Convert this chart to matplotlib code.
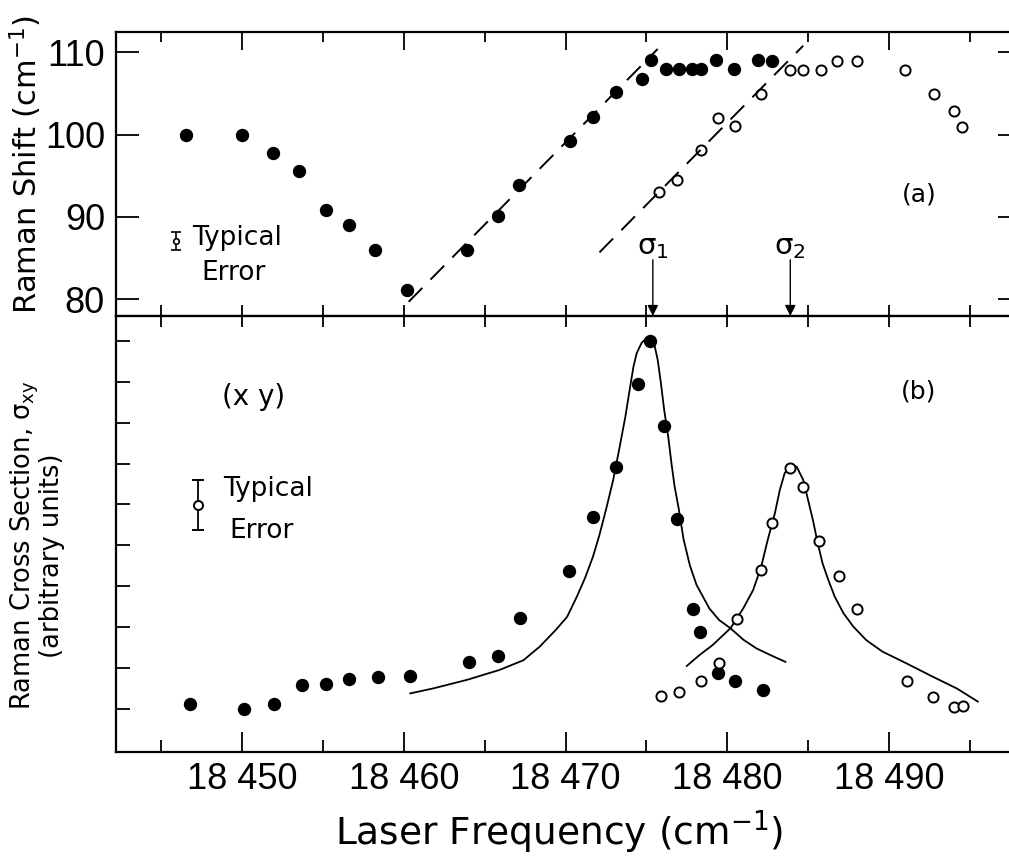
import matplotlib
matplotlib.use('Agg')
from matplotlib import pyplot as plt
from matplotlib.ticker import MultipleLocator

# (a) Raman shift vs laser frequency
shift_fill_x = [18446.5, 18450.0, 18451.9, 18453.5, 18455.2, 18456.6, 18458.2, 18460.2,
                18463.9, 18465.8, 18467.1, 18470.3, 18471.7, 18473.1, 18474.7, 18475.3,
                18476.2, 18477.0, 18477.8, 18478.4, 18479.3, 18480.4, 18481.9, 18482.8]
shift_fill_y = [100.0, 99.9, 97.8, 95.6, 90.9, 89.0, 86.0, 81.1,
                86.0, 90.1, 93.9, 99.2, 102.1, 105.2, 106.8, 109.1,
                108.0, 108.0, 108.0, 108.0, 109.1, 108.0, 109.1, 108.9]
shift_open_x = [18475.8, 18476.9, 18478.4, 18479.4, 18480.5, 18482.1, 18483.9, 18484.7,
                18485.8, 18486.8, 18488.0, 18491.0, 18492.8, 18494.0, 18494.5]
shift_open_y = [93.0, 94.5, 98.1, 102.0, 101.0, 104.9, 107.8, 107.8,
                107.9, 109.0, 108.9, 107.9, 104.9, 102.9, 100.9]
dash1_x = [18460.3, 18475.7]
dash1_y = [79.7, 110.4]
dash2_x = [18472.1, 18484.7]
dash2_y = [85.7, 110.8]
sigma_x = [18475.4, 18483.9]
sigma_lab = [r'$\mathregular{\sigma_1}$', r'$\mathregular{\sigma_2}$']
shift_ticks = [80, 90, 100, 110]
err_a = [18445.9, 87.1, 1.1]

# (b) cross section (arbitrary units)
xs_fill_x = [18446.8, 18450.1, 18452.0, 18453.7, 18455.2, 18456.6, 18458.4, 18460.4,
             18464.0, 18465.8, 18467.2, 18470.2, 18471.7, 18473.1, 18474.5, 18475.2,
             18476.1, 18476.9, 18477.9, 18478.3, 18479.4, 18480.5, 18482.2]
xs_fill_y = [1.13, 1.02, 1.13, 1.59, 1.63, 1.73, 1.80, 1.82,
             2.15, 2.30, 3.24, 4.38, 5.70, 6.92, 8.93, 9.99,
             7.92, 5.65, 3.44, 2.89, 1.89, 1.70, 1.47]
xs_open_x = [18475.9, 18477.0, 18478.4, 18479.5, 18480.6, 18482.1, 18482.8, 18483.9,
             18484.7, 18485.7, 18486.9, 18488.0, 18491.1, 18492.7, 18494.0, 18494.6]
xs_open_y = [1.33, 1.43, 1.69, 2.12, 3.20, 4.40, 5.56, 6.88,
             6.43, 5.11, 4.25, 3.44, 1.69, 1.31, 1.05, 1.09]
fit1_x = [18460.4, 18461.8, 18463.9, 18465.9, 18467.4, 18468.4, 18469.4, 18470.1,
          18470.7, 18471.2, 18471.7, 18472.1, 18472.5, 18472.95, 18473.35, 18473.7,
          18474.0, 18474.2, 18474.4, 18474.7, 18475.0, 18475.25, 18475.5, 18475.7,
          18475.9, 18476.1, 18476.35, 18476.55, 18476.75, 18477.0, 18477.3, 18477.7,
          18478.1, 18478.9, 18479.5, 18480.2, 18481.0, 18481.8, 18482.7, 18483.6]
fit1_y = [1.39, 1.51, 1.72, 1.96, 2.20, 2.53, 2.94, 3.26,
          3.75, 4.20, 4.73, 5.26, 5.87, 6.60, 7.41, 8.14,
          8.88, 9.36, 9.69, 9.94, 10.06, 10.06, 9.89, 9.53,
          8.96, 8.31, 7.66, 7.01, 6.43, 5.90, 5.15, 4.50,
          4.04, 3.46, 3.18, 2.98, 2.70, 2.49, 2.32, 2.16]
fit2_x = [18477.5, 18478.3, 18479.1, 18480.2, 18481.0, 18481.6, 18482.1, 18482.5,
          18482.95, 18483.25, 18483.55, 18483.9, 18484.3, 18484.7, 18485.0, 18485.3,
          18485.6, 18485.9, 18486.25, 18486.65, 18487.2, 18487.8, 18488.6, 18489.6,
          18491.1, 18492.7, 18494.2, 18495.5]
fit2_y = [2.06, 2.33, 2.57, 2.98, 3.47, 3.91, 4.48, 5.13,
          5.79, 6.35, 6.76, 6.96, 6.92, 6.60, 6.11, 5.62,
          5.05, 4.56, 4.16, 3.75, 3.34, 3.02, 2.69, 2.41,
          2.12, 1.80, 1.51, 1.19]
err_b = [18447.3, 5.99, 0.61]

x_ticks = [18450, 18460, 18470, 18480, 18490]
x_tick_labels = ['18 450', '18 460', '18 470', '18 480', '18 490']

plt.rcParams['font.family'] = 'DejaVu Sans'
plt.rcParams['mathtext.fontset'] = 'dejavusans'
tick_font = ['Liberation Sans', 'DejaVu Sans']

W, H = 1009, 859
fig = plt.figure(figsize=(W / 100, H / 100), dpi=100)
ax1 = fig.add_axes([116 / W, 1 - 316 / H, 895 / W, 284.3 / H])
ax2 = fig.add_axes([116 / W, 1 - 752 / H, 895 / W, 436 / H])

for ax in (ax1, ax2):
    ax.set_xlim(18442.2, 18497.55)
    ax.xaxis.set_minor_locator(MultipleLocator(5))
    for s in ax.spines.values():
        s.set_linewidth(1.6)
    ax.spines['right'].set_visible(False)

# ---- panel (a)
ax1.set_ylim(77.97, 112.5)
ax1.set_xticks(x_ticks, [])
ax1.set_yticks(shift_ticks, [str(v) for v in shift_ticks], family=tick_font, fontsize=26)
ax1.tick_params(axis='x', which='both', top=True, bottom=False, direction='in', width=1.3)
ax1.tick_params(axis='x', which='major', length=13)
ax1.tick_params(axis='x', which='minor', length=7)
ax1.tick_params(axis='y', left=True, right=False, direction='in', length=16.5, width=1.3, pad=8)
ry = ax1.secondary_yaxis('right')
ry.set_yticks(shift_ticks)
ry.tick_params(direction='in', length=9.4, width=1.3, labelright=False)
ry.spines['right'].set_visible(False)

ax1.plot(dash1_x, dash1_y, color='black', lw=1.4, linestyle=(0, (10, 6)))
ax1.plot(dash2_x, dash2_y, color='black', lw=1.4, linestyle=(0, (10, 6)))
ax1.plot(shift_fill_x, shift_fill_y, 'o', color='black', ms=8.6, zorder=3)
ax1.plot(shift_open_x, shift_open_y, 'o', mfc='none', mec='black', ms=7.3, mew=1.4, zorder=3)

for sx, lab in zip(sigma_x, sigma_lab):
    ax1.annotate('', xy=(sx, 77.97), xytext=(sx, 84.8),
                 arrowprops=dict(arrowstyle='-|>', color='black', lw=1.0,
                                 mutation_scale=16, shrinkA=0, shrinkB=0))
    ax1.text(sx, 84.7, lab, ha='center', va='bottom', fontsize=21)

ax1.errorbar(err_a[0], err_a[1], yerr=err_a[2], fmt='o', ms=4, mfc='white', mec='black',
             mew=1.2, ecolor='black', elinewidth=1.2, capsize=3.6, capthick=1.2)
ax1.text(18446.9, 87.5, 'Typical', ha='left', va='center', fontsize=19)
ax1.text(18447.5, 83.2, 'Error', ha='left', va='center', fontsize=19)
ax1.text(18491.9, 92.7, '(a)', ha='center', va='center', fontsize=18)

# ---- panel (b)
ax2.set_ylim(-0.04, 10.6)
ax2.set_yticks(range(1, 11), [])
ax2.set_xticks(x_ticks, x_tick_labels, family=tick_font, fontsize=26)
ax2.tick_params(axis='x', which='both', top=False, bottom=True, direction='in', width=1.3, pad=7.5)
ax2.tick_params(axis='x', which='major', length=14.4)
ax2.tick_params(axis='x', which='minor', length=8.6)
ax2.tick_params(axis='y', left=True, right=False, direction='in', length=10, width=1.3)
tx = ax2.secondary_xaxis('top')
tx.set_xticks(x_ticks)
tx.xaxis.set_minor_locator(MultipleLocator(5))
tx.tick_params(which='both', direction='inout', length=15.8, width=1.3, labeltop=False)

ax2.plot(fit1_x, fit1_y, color='black', lw=1.3)
ax2.plot(fit2_x, fit2_y, color='black', lw=1.3)
ax2.plot(xs_fill_x, xs_fill_y, 'o', color='black', ms=8.6, zorder=3)
ax2.plot(xs_open_x, xs_open_y, 'o', mfc='white', mec='black', ms=7.3, mew=1.4, zorder=4)

ax2.errorbar(err_b[0], err_b[1], yerr=err_b[2], fmt='o', ms=6.5, mfc='white', mec='black',
             mew=1.4, ecolor='black', elinewidth=1.3, capsize=4.3, capthick=1.3)
ax2.text(18448.8, 6.39, 'Typical', ha='left', va='center', fontsize=19)
ax2.text(18449.2, 5.35, 'Error', ha='left', va='center', fontsize=19)
ax2.text(18450.7, 8.62, '(x y)', ha='center', va='center', fontsize=20)
ax2.text(18491.85, 8.75, '(b)', ha='center', va='center', fontsize=18)

# axis titles
fig.text(559 / W, 1 - 845 / H, r'Laser Frequency (cm$^{-1}$)', ha='center', va='baseline', fontsize=27)
fig.text(37 / W, 1 - 164 / H, r'Raman Shift (cm$^{-1}$)', rotation=90, rotation_mode='anchor',
         ha='center', va='baseline', fontsize=22)
fig.text(31 / W, 1 - 545 / H, r'Raman Cross Section, $\mathregular{\sigma_{xy}}$', rotation=90,
         rotation_mode='anchor', ha='center', va='baseline', fontsize=18.5)
fig.text(59 / W, 1 - 556 / H, '(arbitrary units)', rotation=90, rotation_mode='anchor',
         ha='center', va='baseline', fontsize=18.5)

fig.savefig('out.png', dpi=100)
